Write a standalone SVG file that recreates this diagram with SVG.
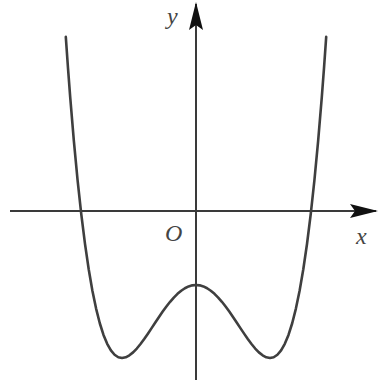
<svg xmlns="http://www.w3.org/2000/svg" width="378" height="385" viewBox="0 0 378 385">
<style>
.axis{stroke:#3a3a3a;stroke-width:2;fill:none}
.curve{stroke:#3f3f3f;stroke-width:2.6;fill:none;stroke-linejoin:round;stroke-linecap:round}
.lbl{font-family:"Liberation Serif",serif;font-style:italic;font-size:24px;fill:#444}
</style>
<defs>
<marker id="ah" markerWidth="28" markerHeight="14" refX="26" refY="7" orient="auto" markerUnits="userSpaceOnUse">
<path d="M0,0 L28,7 L0,14 L5,7 Z" fill="#111"/>
</marker>
</defs>
<rect width="378" height="385" fill="#fff"/>
<g id="connectors">
<line class="axis" x1="10" y1="211" x2="376" y2="211" marker-end="url(#ah)"/>
<line class="axis" x1="196" y1="380" x2="196" y2="4" marker-end="url(#ah)"/>
</g>
<g id="curve">
<polyline class="curve" points="65.8,36.8 68,68.1 70.2,97.2 73.9,141.4 77.6,180.35 81.3,214.4 85,243.94 88.7,269.27 92.4,290.72 96.1,308.6 99.8,323.24 103.5,334.9 107.2,343.87 110.9,350.41 114.6,354.78 118.3,357.23 122,358 125.7,357.31 129.4,355.36 133.1,352.38 136.8,348.54 140.5,344.03 144.2,339.01 147.9,333.65 151.6,328.1 155.3,322.49 159,316.94 162.7,311.57 166.4,306.49 170.1,301.79 173.8,297.55 177.5,293.84 181.2,290.72 184.9,288.25 188.6,286.45 192.3,285.36 196,285 199.7,285.36 203.4,286.45 207.1,288.25 210.8,290.72 214.5,293.84 218.2,297.55 221.9,301.79 225.6,306.49 229.3,311.57 233,316.94 236.7,322.49 240.4,328.1 244.1,333.65 247.8,339.01 251.5,344.03 255.2,348.54 258.9,352.38 262.6,355.36 266.3,357.31 270,358 273.7,357.23 277.4,354.78 281.1,350.41 284.8,343.87 288.5,334.9 292.2,323.24 295.9,308.6 299.6,290.72 303.3,269.27 307,243.94 310.7,214.4 314.4,180.35 318.1,141.4 321.8,97.2 324,68.1 326.2,36.8"/>
</g>
<g id="label-y"><text class="lbl" x="167" y="24">y</text></g>
<g id="label-O"><text class="lbl" x="165" y="241">O</text></g>
<g id="label-x"><text class="lbl" x="356" y="244">x</text></g>
</svg>
